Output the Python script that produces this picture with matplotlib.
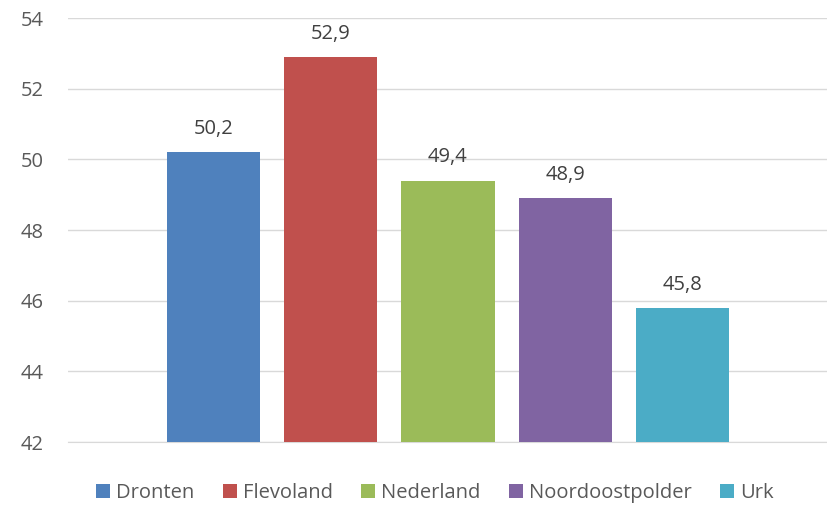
import matplotlib
matplotlib.use("Agg")
import matplotlib.pyplot as plt
from matplotlib.patches import Patch

categories = ["Dronten", "Flevoland", "Nederland", "Noordoostpolder", "Urk"]
values = [50.2, 52.9, 49.4, 48.9, 45.8]
labels = ["50,2", "52,9", "49,4", "48,9", "45,8"]
colors = ["#4F81BD", "#C0504D", "#9BBB59", "#8064A2", "#4BACC6"]
yticks = [42, 44, 46, 48, 50, 52, 54]

plt.rcParams['font.family'] = ['Open Sans', 'DejaVu Sans']

fig = plt.figure(figsize=(8.28, 5.05), dpi=100)
ax = fig.add_axes([68/828, 1-442/505, 760/828, (442-18)/505])

x = list(range(len(categories)))
bars = ax.bar(x, [v - 42 for v in values], bottom=42, width=93/117, color=colors, zorder=3)
for xi, v, lab in zip(x, values, labels):
    ax.annotate(lab, (xi, v), xytext=(0, 13), textcoords='offset points',
                ha='center', va='baseline', fontsize=14.5, color='#404040')

ax.set_ylim(42, 54)
ax.set_xlim(-1.2436, 4 + 1.2436)
ax.set_yticks(yticks)
ax.set_yticklabels([str(t) for t in yticks], fontsize=14.5, color='#595959')
ax.set_xticks([])
ax.yaxis.grid(True, color='#D9D9D9', linewidth=1, zorder=0)
for s in ['top', 'right', 'left']:
    ax.spines[s].set_visible(False)
ax.spines['bottom'].set_color('#D9D9D9')
ax.tick_params(axis='y', length=0, pad=17.5)

handles = [Patch(facecolor=c, label=l) for c, l in zip(colors, categories)]
fig.legend(handles=handles, loc='center', bbox_to_anchor=(435/828, 1-493/505), ncol=5,
           frameon=False, fontsize=14.5, handlelength=0.7, handleheight=0.7,
           handletextpad=0.3, columnspacing=1.4, labelcolor='#595959')

fig.savefig("out.png", dpi=100)
